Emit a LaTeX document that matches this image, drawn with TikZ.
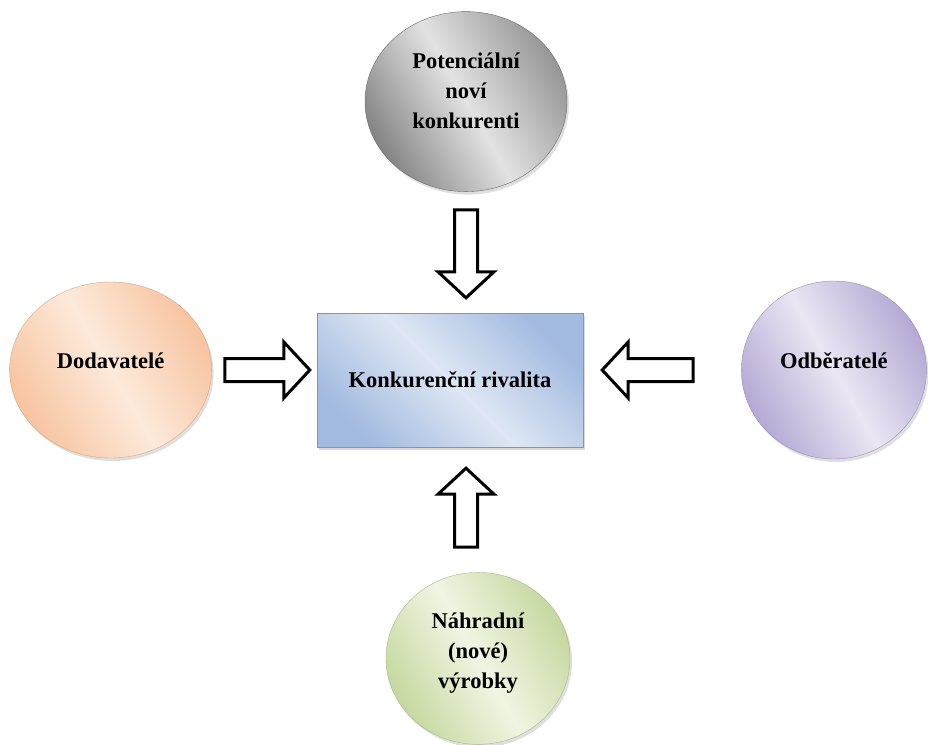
\documentclass[tikz,border=0pt]{standalone}
\usepackage{fontspec}
\setmainfont{Liberation Serif}
\usetikzlibrary{calc, positioning, shapes.geometric, shadows}

\definecolor{gray_dark}{HTML}{858585}
\definecolor{gray_light}{HTML}{E2E2E2}
\definecolor{peach_dark}{HTML}{F7C4A0}
\definecolor{peach_light}{HTML}{FDEADB}
\definecolor{lilac_dark}{HTML}{B5A9D4}
\definecolor{lilac_light}{HTML}{EAE6F3}
\definecolor{green_dark}{HTML}{C6D8A0}
\definecolor{green_light}{HTML}{F0F5E3}
\definecolor{blue_dark}{HTML}{A3BBE0}
\definecolor{blue_light}{HTML}{DEE7F3}

\tikzstyle{force_text}=[font=\bfseries\fontsize{22.5}{30}\selectfont, align=center]
\tikzstyle{force_circle}=[ellipse, inner sep=0, thin,
   drop shadow={opacity=0.25, shadow xshift=2pt, shadow yshift=-3pt}]
\tikzstyle{rival_box}=[rectangle, force_text, draw=blue_dark!80!black, thin,
   minimum width=266pt, minimum height=134pt,
   left color=blue_dark, right color=blue_dark, middle color=blue_light, shading angle=135,
   drop shadow={opacity=0.3, shadow xshift=2pt, shadow yshift=-3pt}]
\tikzstyle{gray_fill}=[draw=gray_dark!80!black, left color=gray_dark, right color=gray_dark!85,
   middle color=gray_light, shading angle=120]
\tikzstyle{peach_fill}=[draw=peach_dark!85!black, left color=peach_dark, right color=peach_dark,
   middle color=peach_light, shading angle=120]
\tikzstyle{lilac_fill}=[draw=lilac_dark!85!black, left color=lilac_dark, right color=lilac_dark,
   middle color=lilac_light, shading angle=120]
\tikzstyle{green_fill}=[draw=green_dark!85!black, left color=green_dark, right color=green_dark,
   middle color=green_light, shading angle=120]
\tikzstyle{force_arrow}=[draw=black, line width=3pt, line join=miter, fill=white]

% hollow block arrow from #1 towards #2, cut back by #3 and #4
\newcommand{\forcearrow}[4]{%
  \coordinate (arr_start) at ($(#1)!#3!(#2)$);
  \coordinate (arr_tip)   at ($(#2)!#4!(#1)$);
  \coordinate (arr_neck)  at ($(arr_tip)!26pt!(arr_start)$);
  \draw [force_arrow] ($(arr_start)!11.5pt!90:(arr_tip)$)
      -- ($(arr_neck)!11.5pt!90:(arr_tip)$)
      -- ($(arr_neck)!28pt!90:(arr_tip)$)
      -- (arr_tip)
      -- ($(arr_neck)!28pt!-90:(arr_tip)$)
      -- ($(arr_neck)!11.5pt!-90:(arr_tip)$)
      -- ($(arr_start)!11.5pt!-90:(arr_tip)$)
      -- cycle;
}

\begin{document}
\begin{tikzpicture}[x=1pt, y=-1pt]
\useasboundingbox (0,0) rectangle (928,744);

% rivalry in the middle
\node [rival_box] (rival) at (450,380) {Konkurenční rivalita};

% the four outer forces
\node [force_circle, gray_fill, minimum width=202pt, minimum height=180pt] (entrants)
      [above=121pt of rival, xshift=16pt]
      {};
\node [force_circle, peach_fill, minimum width=202pt, minimum height=176pt] (supplier)
      [left=105pt of rival, yshift=10pt]
      {};
\node [force_circle, lilac_fill, minimum width=185pt, minimum height=178pt] (buyer)
      [right=158pt of rival, yshift=10pt]
      {};
\node [force_circle, green_fill, minimum width=184pt, minimum height=172pt] (substitutes)
      [below=125pt of rival, xshift=28pt]
      {};

% texts of the forces, a bit above the centres
\node [force_text] (entrants_text)    [above=-3pt of entrants.center, anchor=center, yshift=14pt]
      {Potenciální\\noví\\konkurenti};
\node [force_text] (supplier_text)    [above=-3pt of supplier.center, anchor=center, yshift=12pt]
      {Dodavatelé};
\node [force_text] (buyer_text)       [above=-3pt of buyer.center, anchor=center, yshift=12pt]
      {Odběratelé};
\node [force_text] (substitutes_text) [above=-3pt of substitutes.center, anchor=center, yshift=8pt]
      {Náhradní\\(nové)\\výrobky};

% block arrows into the rivalry
\forcearrow{supplier.east}{supplier.east -| rival.west}{13pt}{7pt}
\forcearrow{buyer.west}{buyer.west -| rival.east}{48pt}{19pt}
\forcearrow{entrants.south}{entrants.south |- rival.north}{18pt}{15pt}
\forcearrow{entrants.south |- substitutes.north}{entrants.south |- rival.south}{25pt}{21pt}

\end{tikzpicture}
\end{document}
